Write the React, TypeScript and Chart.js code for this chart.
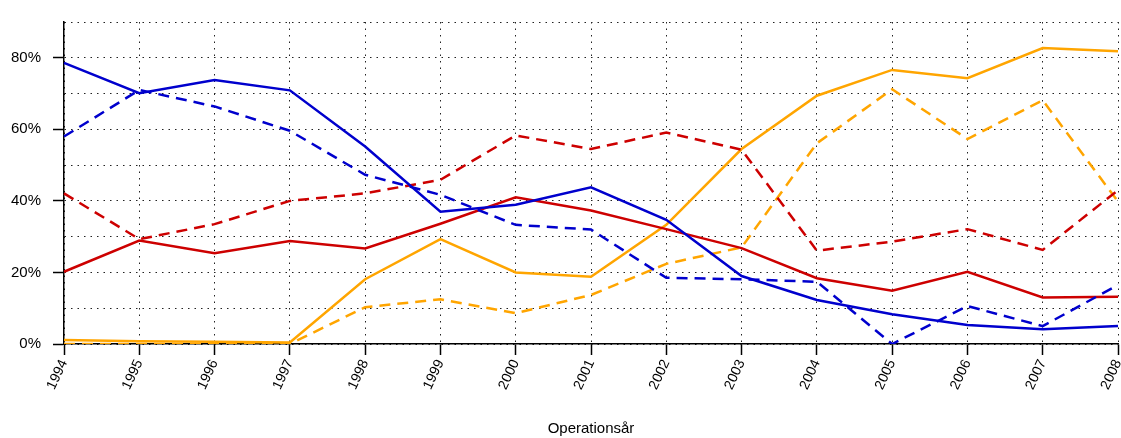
import React, { useEffect, useRef } from "react";
import { Chart, registerables } from "chart.js";

Chart.register(...registerables);

const years = ["1994", "1995", "1996", "1997", "1998", "1999", "2000", "2001", "2002", "2003", "2004", "2005", "2006", "2007", "2008"];

const blueSolid = [78.6, 70.1, 73.8, 70.9, 55.2, 37.0, 38.9, 43.8, 34.7, 19.0, 12.3, 8.3, 5.3, 4.1, 5.0];
const blueDashed = [58.0, 71.0, 66.4, 59.6, 47.3, 41.7, 33.3, 32.0, 18.5, 18.1, 17.4, 0, 10.6, 5.0, 16.5];
const redSolid = [20.2, 28.9, 25.4, 28.8, 26.7, 33.6, 41.0, 37.3, 32.1, 26.8, 18.4, 14.9, 20.2, 13.0, 13.2];
const redDashed = [42.1, 29.3, 33.5, 40.0, 42.1, 45.9, 58.3, 54.5, 59.1, 54.3, 26.1, 28.6, 32.1, 26.3, 43.0];
const orangeSolid = [1.1, 0.8, 0.6, 0.4, 18.1, 29.3, 20.0, 18.8, 33.3, 54.5, 69.4, 76.6, 74.3, 82.7, 81.8];
const orangeDashed = [0, 0, 0, 0, 10.3, 12.5, 8.6, 13.7, 22.4, 27.0, 56.1, 71.2, 57.3, 68.1, 39.8];

const BLUE = "#0000CD";
const RED = "#CD0000";
const ORANGE = "#FFA500";
const DASH = [11, 7];
const GRID_DASH = [1.5, 5];
const FONT = "'Liberation Sans', Arial, Helvetica, sans-serif";

export default function App() {
  const ref = useRef<HTMLCanvasElement | null>(null);

  useEffect(() => {
    if (!ref.current) return;
    const line = (data: number[], color: string, dashed: boolean) => ({
      data,
      borderColor: color,
      backgroundColor: color,
      borderWidth: 2.5,
      borderDash: dashed ? DASH : [],
      pointRadius: 0,
      tension: 0,
      fill: false,
    });
    const chart = new Chart(ref.current, {
      type: "line",
      data: {
        labels: years,
        datasets: [
          line(blueSolid, BLUE, false),
          line(blueDashed, BLUE, true),
          line(redSolid, RED, false),
          line(redDashed, RED, true),
          line(orangeSolid, ORANGE, false),
          line(orangeDashed, ORANGE, true),
        ],
      },
      options: {
        animation: false,
        responsive: false,
        maintainAspectRatio: false,
        layout: { padding: { top: 22, right: 3, left: 0, bottom: 0 } },
        plugins: { legend: { display: false }, tooltip: { enabled: false } },
        scales: {
          x: {
            type: "category",
            offset: false,
            afterFit: (s: any) => {
              s.height = 94;
              s.paddingLeft = 0;
              s.paddingRight = 0;
            },
            grid: {
              color: "#222",
              lineWidth: 1,
              drawTicks: true,
              tickLength: 11,
              tickColor: "#000",
              tickWidth: 1.5,
              offset: false,
            },
            border: { display: true, color: "#000", width: 1.5, dash: GRID_DASH },
            ticks: {
              autoSkip: false,
              minRotation: 65,
              maxRotation: 65,
              padding: 2,
              labelOffset: 0,
              color: "#000",
              font: { family: FONT, size: 14 },
            },
            title: {
              display: true,
              text: "Operationsår",
              color: "#000",
              padding: 0,
              font: { family: FONT, size: 15 },
            },
          },
          y: {
            min: 0,
            max: 90,
            afterFit: (s: any) => {
              s.width = 64;
              s.paddingTop = 0;
              s.paddingBottom = 0;
            },
            grid: {
              color: "#222",
              lineWidth: 1,
              drawTicks: true,
              tickLength: 11,
              tickWidth: 1.5,
              tickColor: (c: any) => (c.tick && c.tick.value % 20 === 0 ? "#000" : "rgba(0,0,0,0)"),
            },
            border: { display: true, color: "#000", width: 1.5, dash: GRID_DASH },
            ticks: {
              stepSize: 10,
              includeBounds: false,
              padding: 12,
              color: "#000",
              font: { family: FONT, size: 15 },
              callback: (v: any) => (Number(v) % 20 === 0 ? `${v}%` : ""),
            },
          },
        },
      },
    });
    return () => chart.destroy();
  }, []);

  return (
    <div style={{ position: "fixed", left: 0, top: 0, width: 1121, height: 438, background: "#fff" }}>
      <canvas ref={ref} width={1121} height={438} style={{ display: "block" }} />
    </div>
  );
}
